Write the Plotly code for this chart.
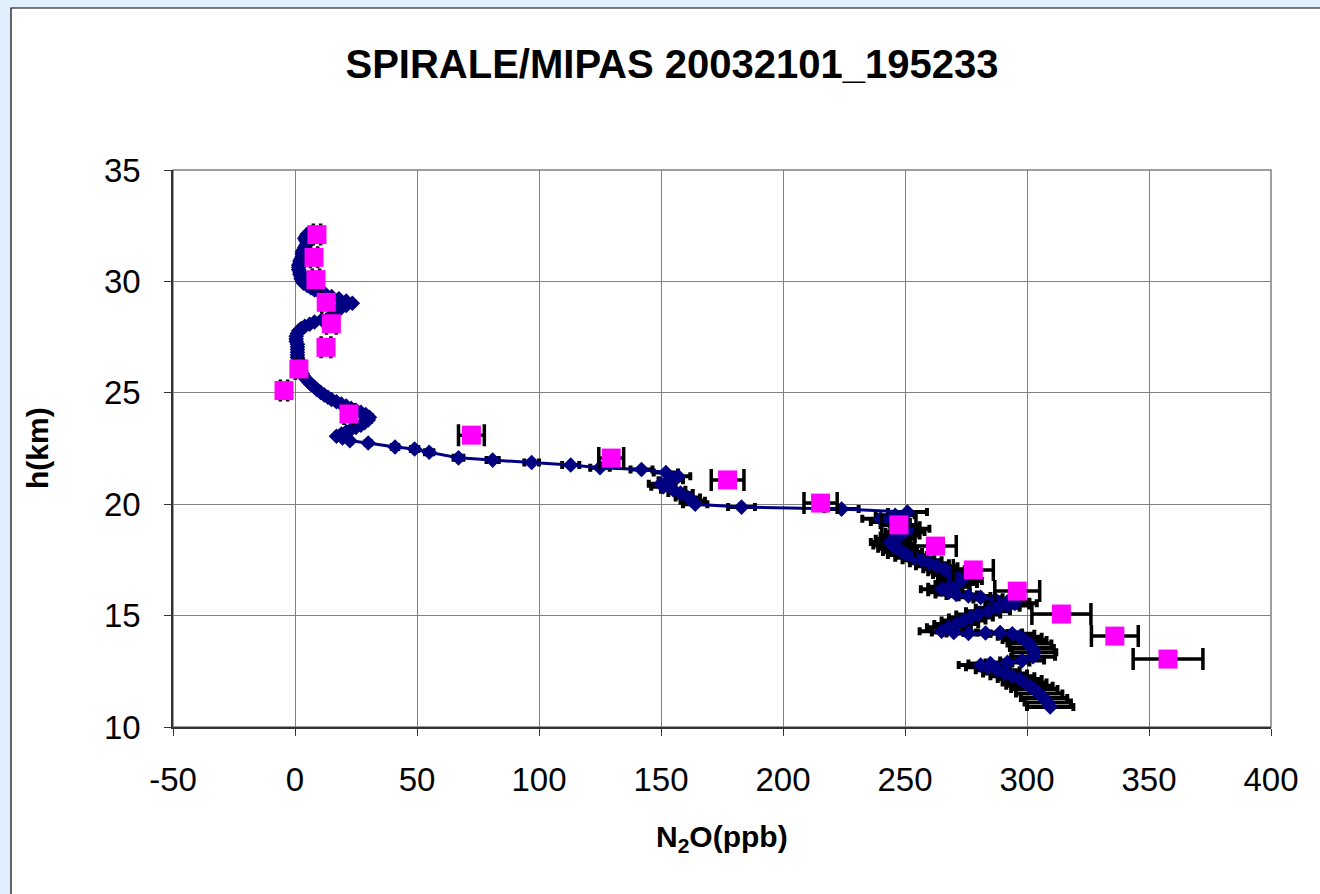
import plotly.graph_objects as go

# ---------------- data ----------------
# SPIRALE in-situ profile (top -> bottom)
spir_n2o = [
    5, 4.5, 4, 4.5, 5, 4.5, 4, 3.5, 3, 3,
    3, 2.5, 2, 2, 1.5, 1.5, 1.5, 2, 2, 2.5,
    2.5, 3, 3.5, 5, 6.5, 8, 10, 12.5, 15, 18,
    21, 23.5, 21, 19, 17.5, 17, 16, 14, 11, 8,
    6, 4, 2.5, 1.5, 1, 0.5, 0.5, 0.5, 1, 1,
    1, 1, 1, 1, 1.5, 1.5, 2, 2, 2.5, 3,
    3.5, 4.5, 5.5, 6.5, 8, 9, 10.5, 12, 13.5, 15,
    17, 19, 21, 23, 25, 27, 29, 30.5, 30, 28.5,
    27, 25, 23, 21, 19, 17, 19.5, 22.5, 30, 41,
    49, 55, 67, 81, 97, 113, 125, 142, 152, 157,
    154, 150, 151, 155, 158, 161, 163, 164, 183, 224,
    251, 246, 240, 244, 248, 252, 250, 248, 246, 244,
    245, 247, 249, 251, 254, 257, 260, 263, 266, 268,
    270, 272, 273, 271, 268, 265, 268, 271, 276, 281,
    287, 292, 295, 292, 288, 284, 280, 277, 274, 271,
    268, 265, 270, 276, 283, 289, 294, 297, 299, 301,
    302, 303, 302.5, 298, 292, 285, 281, 284, 288, 291,
    294, 297, 299, 301, 303, 305, 307, 308.5, 309.5,
]
spir_alt = [
    32.12, 32.02, 31.92, 31.82, 31.72, 31.62, 31.52, 31.42, 31.32, 31.22,
    31.12, 31.02, 30.92, 30.82, 30.72, 30.62, 30.52, 30.42, 30.32, 30.22,
    30.12, 30.02, 29.92, 29.82, 29.72, 29.62, 29.52, 29.42, 29.32, 29.22,
    29.12, 29.02, 28.92, 28.82, 28.72, 28.62, 28.50, 28.38, 28.28, 28.18,
    28.08, 27.98, 27.88, 27.78, 27.66, 27.54, 27.42, 27.30, 27.18, 27.06,
    26.94, 26.82, 26.70, 26.58, 26.46, 26.34, 26.22, 26.10, 25.98, 25.86,
    25.74, 25.62, 25.50, 25.38, 25.26, 25.14, 25.02, 24.90, 24.80, 24.70,
    24.60, 24.50, 24.40, 24.30, 24.22, 24.12, 24.02, 23.90, 23.78, 23.66,
    23.55, 23.45, 23.35, 23.25, 23.15, 23.05, 22.97, 22.85, 22.75, 22.57,
    22.48, 22.33, 22.08, 21.98, 21.87, 21.76, 21.64, 21.56, 21.42, 21.25,
    21.08, 20.92, 20.78, 20.65, 20.50, 20.30, 20.15, 20.00, 19.87, 19.78,
    19.65, 19.50, 19.35, 19.20, 19.05, 18.90, 18.75, 18.60, 18.45, 18.30,
    18.15, 18.00, 17.85, 17.72, 17.60, 17.48, 17.35, 17.22, 17.08, 16.95,
    16.82, 16.68, 16.55, 16.42, 16.30, 16.18, 16.05, 15.95, 15.88, 15.82,
    15.72, 15.62, 15.55, 15.45, 15.35, 15.20, 15.05, 14.92, 14.78, 14.62,
    14.48, 14.30, 14.24, 14.20, 14.22, 14.24, 14.18, 14.05, 13.90, 13.75,
    13.55, 13.35, 13.15, 12.98, 12.90, 12.85, 12.78, 12.68, 12.55, 12.40,
    12.28, 12.15, 12.00, 11.85, 11.70, 11.50, 11.30, 11.10, 10.90,
]
spir_err = [
    0.5, 0.5, 0.5, 0.5, 0.5, 0.5, 0.5, 0.5, 0.5, 0.5,
    0.5, 0.5, 0.5, 0.5, 0.5, 0.5, 0.5, 0.5, 0.5, 0.5,
    0.5, 0.5, 0.5, 0.5, 0.5, 0.5, 0.5, 0.5, 0.5, 0.6,
    0.7, 0.8, 0.7, 0.6, 0.6, 0.6, 0.5, 0.5, 0.5, 0.5,
    0.5, 0.5, 0.5, 0.5, 0.5, 0.5, 0.5, 0.5, 0.5, 0.5,
    0.5, 0.5, 0.5, 0.5, 0.5, 0.5, 0.5, 0.5, 0.5, 0.5,
    0.5, 0.5, 0.5, 0.5, 0.5, 0.5, 0.5, 0.5, 0.5, 0.5,
    0.6, 0.6, 0.7, 0.7, 0.8, 0.8, 0.9, 1.0, 1.0, 0.9,
    0.8, 0.8, 0.7, 0.7, 0.6, 0.6, 0.6, 0.7, 1.0, 1.3,
    1.5, 1.7, 2.0, 2.5, 3.0, 3.5, 4.0, 4.5, 5.0, 5.0,
    5.0, 5.0, 5.0, 5.0, 5.0, 5.0, 5.0, 5.0, 5.5, 7.0,
    8.0, 8.0, 7.5, 8.0, 8.0, 8.0, 8.0, 8.0, 8.0, 8.0,
    8.0, 8.0, 8.0, 8.0, 8.0, 8.0, 8.0, 8.5, 8.5, 8.5,
    8.5, 8.5, 8.5, 8.5, 8.5, 8.5, 8.5, 8.5, 9.0, 9.0,
    9.0, 9.0, 9.0, 9.0, 9.0, 9.0, 9.0, 9.0, 9.0, 9.0,
    9.0, 9.0, 9.0, 9.0, 9.0, 9.0, 9.0, 9.0, 9.0, 9.0,
    9.0, 9.0, 9.0, 9.0, 9.0, 9.0, 9.0, 9.0, 9.0, 9.0,
    9.0, 9.0, 9.0, 9.5, 9.5, 9.5, 9.5, 9.5, 9.5,
]

# MIPAS retrieval
mipas_alt = [32.1, 31.08, 30.08, 29.06, 28.1, 27.04, 26.07, 25.1, 24.05, 23.1,
             22.07, 21.09, 20.05, 19.07, 18.12, 17.05, 16.1, 15.07, 14.08, 13.05]
mipas_n2o = [9.0, 7.8, 8.6, 12.8, 14.9, 12.7, 1.6, -4.5, 22.1, 72.3,
             129.6, 177.3, 215.4, 247.5, 262.5, 278.0, 296.0, 314.1, 336.0, 357.8]
mipas_err = [1.5, 1.5, 1.5, 1.8, 2.0, 2.0, 1.5, 1.5, 2.0, 5.3,
             5.1, 6.7, 6.8, 7.0, 8.5, 8.2, 9.2, 12.1, 9.6, 14.3]

x_ticks = [-50, 0, 50, 100, 150, 200, 250, 300, 350, 400]
x_tick_text = ["-50", "0", "50", "100", "150", "200", "250", "300", "350", "400"]
y_ticks = [10, 15, 20, 25, 30, 35]
y_tick_text = ["10", "15", "20", "25", "30", "35"]

# ---------------- figure ----------------
W, H = 1320, 894
L, R, T, B = 173, 1271, 170, 727
pw, ph = R - L, B - T


def px_x(p):
    return (p - L) / pw


def px_y(p):
    return (B - p) / ph


FONT = "Arial, 'Liberation Sans', Helvetica, sans-serif"

fig = go.Figure()

fig.add_trace(go.Scatter(
    x=spir_n2o, y=spir_alt, mode="lines+markers", name="SPIRALE",
    line=dict(color="#000080", width=3),
    marker=dict(symbol="diamond", size=12, color="#000080"),
    error_x=dict(type="data", array=spir_err, color="#000000",
                 thickness=4, width=4),
))

fig.add_trace(go.Scatter(
    x=mipas_n2o, y=mipas_alt, mode="markers", name="MIPAS",
    marker=dict(symbol="square", size=19, color="#FF00FF"),
    error_x=dict(type="data", array=mipas_err, color="#000000",
                 thickness=3.5, width=11),
))

axis_common = dict(
    showgrid=True, gridcolor="#808080", gridwidth=1.2,
    zeroline=False, showline=True, linecolor="#333333", linewidth=1.5,
    ticks="outside", ticklen=7, tickwidth=1.3, tickcolor="#333333",
    tickfont=dict(family=FONT, size=33, color="#000000"),
)

fig.update_xaxes(range=[-50, 400], tickvals=x_ticks, ticktext=x_tick_text,
                 ticklabelstandoff=16, **axis_common)
fig.update_yaxes(range=[10, 35], tickvals=y_ticks, ticktext=y_tick_text,
                 ticklabelstandoff=17, **axis_common)

shapes = [
    # chart area (white with black border)
    dict(type="rect", xref="paper", yref="paper",
         x0=px_x(11), x1=px_x(W + 30), y0=px_y(H + 30), y1=px_y(8),
         fillcolor="#FFFFFF", line=dict(color="#000000", width=1.2),
         layer="below"),
    # plot area border
    dict(type="rect", xref="paper", yref="paper", x0=0, x1=1, y0=0, y1=1,
         line=dict(color="#808080", width=1.5), fillcolor="rgba(0,0,0,0)",
         layer="below"),
]

annotations = [
    dict(text="<b>N<sub>2</sub>O(ppb)</b>", xref="paper", yref="paper",
         x=0.5, y=px_y(838), xanchor="center", yanchor="middle",
         showarrow=False, font=dict(family=FONT, size=30, color="#000000")),
    dict(text="<b>h(km)</b>", xref="paper", yref="paper",
         x=px_x(37), y=px_y(448), xanchor="center", yanchor="middle",
         textangle=-90, showarrow=False,
         font=dict(family=FONT, size=30, color="#000000")),
]

fig.update_layout(
    width=W, height=H,
    margin=dict(l=L, r=W - R, t=T, b=H - B, pad=0),
    paper_bgcolor="#E1EFFC",
    plot_bgcolor="#FFFFFF",
    showlegend=False,
    title=dict(text="<b>SPIRALE/MIPAS 20032101_195233</b>",
               xref="container", yref="container",
               x=672 / W, y=1 - 64 / H, xanchor="center", yanchor="middle",
               font=dict(family=FONT, size=40, color="#000000")),
    shapes=shapes,
    annotations=annotations,
)

fig.write_html(
    "out.html",
    config={"displayModeBar": False},
    post_script="document.body.style.margin='0';document.body.style.overflow='hidden';",
)
